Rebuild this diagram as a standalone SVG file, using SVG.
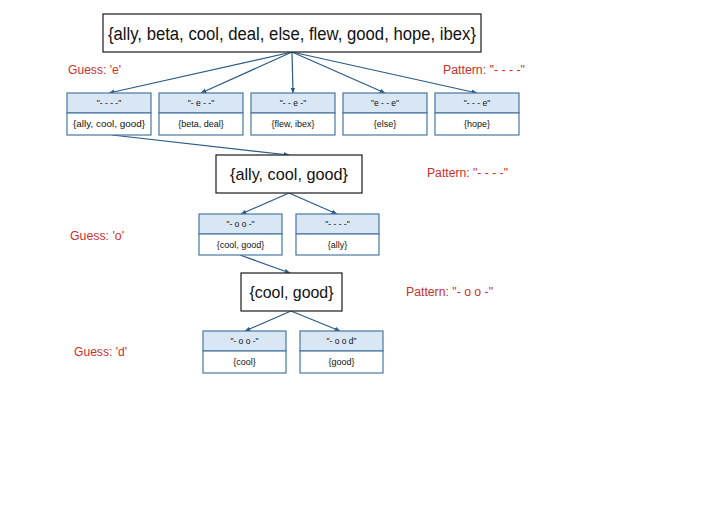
<svg xmlns="http://www.w3.org/2000/svg" width="722" height="523" viewBox="0 0 722 523">
<style>
.big{fill:#fff;stroke:#2b2b2b;stroke-width:1.3}
.hd{fill:#d9e6f4;stroke:#4a77a0;stroke-width:1.2}
.bd{fill:#fff;stroke:#4a77a0;stroke-width:1.2}
.t{font-family:"Liberation Sans",Arial,sans-serif;fill:#111;text-anchor:middle}
.s{font-size:8.5px}
.m{font-size:9px}
.r{font-family:"Liberation Sans",Arial,sans-serif;fill:#c9302c;font-size:12px}
.c line{stroke:#2a5a86;stroke-width:1.2;marker-end:url(#ah)}
</style>
<defs>
<marker id="ah" viewBox="0 0 10 10" refX="9" refY="5" markerWidth="6" markerHeight="6" orient="auto" markerUnits="userSpaceOnUse">
<path d="M0,1 L10,5 L0,9 z" fill="#2a5a86"/>
</marker>
</defs>
<rect width="722" height="523" fill="#fff"/>
<g class="c">
<line x1="292" y1="52" x2="109" y2="93"/>
<line x1="292" y1="52" x2="201" y2="93"/>
<line x1="292" y1="52" x2="293" y2="93"/>
<line x1="292" y1="52" x2="385" y2="93"/>
<line x1="292" y1="52" x2="477" y2="93"/>
<line x1="112" y1="135" x2="289" y2="155"/>
<line x1="289" y1="193" x2="241" y2="214"/>
<line x1="289" y1="193" x2="337" y2="214"/>
<line x1="240" y1="255" x2="290" y2="273"/>
<line x1="291" y1="311" x2="245" y2="331"/>
<line x1="291" y1="311" x2="340" y2="331"/>
</g>
<g id="root">
<rect class="big" x="103" y="14" width="378" height="38"/>
<text class="t" x="292" y="39.5" font-size="18" textLength="368" lengthAdjust="spacingAndGlyphs">{ally, beta, cool, deal, else, flew, good, hope, ibex}</text>
</g>
<g id="p1">
<rect class="hd" x="67" y="93" width="84" height="20"/>
<rect class="bd" x="67" y="113" width="84" height="22"/>
<text class="t s" x="109" y="106">"- - - -"</text>
<text class="t m" x="109" y="127" textLength="72" lengthAdjust="spacingAndGlyphs">{ally, cool, good}</text>
</g>
<g id="p2">
<rect class="hd" x="159" y="93" width="84" height="20"/>
<rect class="bd" x="159" y="113" width="84" height="22"/>
<text class="t s" x="201" y="106">"- e - -"</text>
<text class="t m" x="201" y="127">{beta, deal}</text>
</g>
<g id="p3">
<rect class="hd" x="251" y="93" width="84" height="20"/>
<rect class="bd" x="251" y="113" width="84" height="22"/>
<text class="t s" x="293" y="106">"- - e -"</text>
<text class="t m" x="293" y="127">{flew, ibex}</text>
</g>
<g id="p4">
<rect class="hd" x="343" y="93" width="84" height="20"/>
<rect class="bd" x="343" y="113" width="84" height="22"/>
<text class="t s" x="385" y="106">"e - - e"</text>
<text class="t m" x="385" y="127">{else}</text>
</g>
<g id="p5">
<rect class="hd" x="435" y="93" width="84" height="20"/>
<rect class="bd" x="435" y="113" width="84" height="22"/>
<text class="t s" x="477" y="106">"- - - e"</text>
<text class="t m" x="477" y="127">{hope}</text>
</g>
<g id="mid">
<rect class="big" x="216" y="155" width="146" height="38"/>
<text class="t" x="289" y="180" font-size="17" textLength="118" lengthAdjust="spacingAndGlyphs">{ally, cool, good}</text>
</g>
<g id="q1">
<rect class="hd" x="199" y="214" width="83" height="20"/>
<rect class="bd" x="199" y="234" width="83" height="21"/>
<text class="t s" x="240.5" y="227">"- o o -"</text>
<text class="t m" x="240.5" y="248">{cool, good}</text>
</g>
<g id="q2">
<rect class="hd" x="296" y="214" width="83" height="20"/>
<rect class="bd" x="296" y="234" width="83" height="21"/>
<text class="t s" x="337.5" y="227">"- - - -"</text>
<text class="t m" x="337.5" y="248">{ally}</text>
</g>
<g id="cg">
<rect class="big" x="241" y="273" width="101" height="38"/>
<text class="t" x="291.5" y="298" font-size="17" textLength="84" lengthAdjust="spacingAndGlyphs">{cool, good}</text>
</g>
<g id="r1">
<rect class="hd" x="203" y="331" width="83" height="20"/>
<rect class="bd" x="203" y="351" width="83" height="22"/>
<text class="t s" x="244.5" y="344">"- o o -"</text>
<text class="t m" x="244.5" y="365">{cool}</text>
</g>
<g id="r2">
<rect class="hd" x="300" y="331" width="83" height="20"/>
<rect class="bd" x="300" y="351" width="83" height="22"/>
<text class="t s" x="341.5" y="344">"- o o d"</text>
<text class="t m" x="341.5" y="365">{good}</text>
</g>
<g id="labels">
<text class="r" x="68" y="74" textLength="53" lengthAdjust="spacingAndGlyphs">Guess: 'e'</text>
<text class="r" x="443" y="74" textLength="82" lengthAdjust="spacingAndGlyphs">Pattern: "- - - -"</text>
<text class="r" x="427" y="177" textLength="81" lengthAdjust="spacingAndGlyphs">Pattern: "- - - -"</text>
<text class="r" x="70" y="240" textLength="54" lengthAdjust="spacingAndGlyphs">Guess: 'o'</text>
<text class="r" x="406" y="296" textLength="87" lengthAdjust="spacingAndGlyphs">Pattern: "- o o -"</text>
<text class="r" x="74" y="356" textLength="53" lengthAdjust="spacingAndGlyphs">Guess: 'd'</text>
</g>
</svg>
